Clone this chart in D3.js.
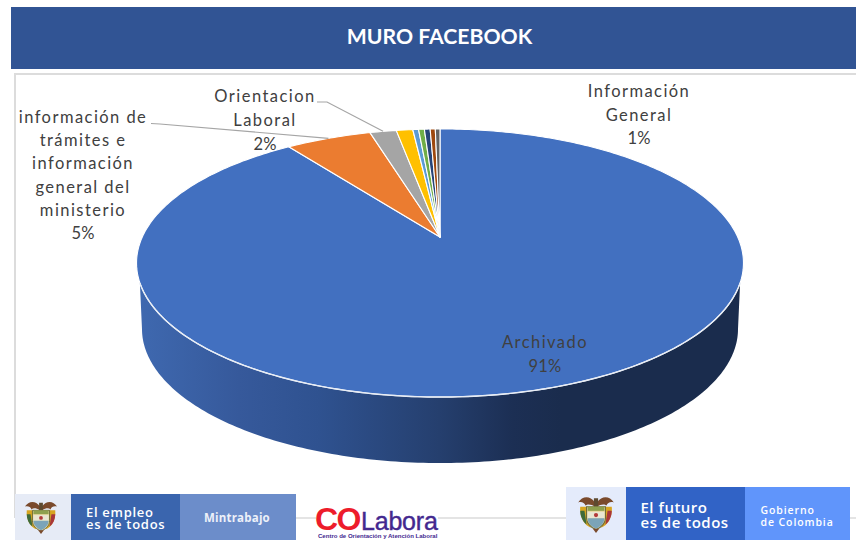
<!DOCTYPE html>
<html><head><meta charset="utf-8">
<style>html,body{margin:0;padding:0;background:#fff}svg{display:block}</style>
<script src="https://cdn.jsdelivr.net/npm/d3@7/dist/d3.min.js"></script></head>
<body><svg id="c" width="856" height="540"></svg>
<script>
// ---- data ----
const categories = ["Archivado","información de trámites e información general del ministerio","Orientacion Laboral","Información General","Otro 1","Otro 2","Otro 3","Otro 4","Otro 5"];
const values = [90.0,5.5,1.7,1.06,0.37,0.37,0.37,0.33,0.3];
const colors = ["#4270C0","#EB7C30","#A5A5A5","#FFC000","#5B9BD5","#70AD47","#264478","#9E480E","#636363"];
const percentLabels = ["91%","5%","2%","1%"];
const labelLines = [["Archivado"],["información de","trámites e","información","general del","ministerio"],["Orientacion","Laboral"],["Información","General"]];
const title = "MURO FACEBOOK";

// ---- layout ----
const svg=d3.select("#c");
const defs=svg.append("defs");
const apex={x:440,y:237},R=297.7,S=129,K=0.194,depth=66;
const project=a=>{const u=Math.sin(a),v=Math.cos(a),w=1+K*v;return [apex.x+R*u/w,apex.y-S*v/w];};
const line=d3.line();
const sweep=(a0,a1,n)=>d3.range(n+1).map(i=>project(a0+(a1-a0)*i/n));

// header and frame
svg.append("rect").attr("x",11).attr("y",7).attr("width",845).attr("height",62).attr("fill","#315494");
svg.append("text").text(title).attr("x",439.5).attr("y",44).attr("text-anchor","middle")
  .attr("font-family","Lato").attr("font-weight",700).attr("font-size",21.2).attr("fill","#fff");
svg.append("path").attr("d","M856 74H15V518").attr("fill","none").attr("stroke","#dcdcdc").attr("stroke-width",2);
svg.append("path").attr("d","M296 518H316M438 518H566M850 518H856").attr("fill","none").attr("stroke","#dcdcdc").attr("stroke-width",1.5);

// 3D side: front of the top rim, then the same rim shifted down by the depth
const g3=defs.append("linearGradient").attr("id","side").attr("gradientUnits","userSpaceOnUse")
  .attr("x1",136).attr("x2",743).attr("y1",0).attr("y2",0);
[[0,"#3f69b0"],[0.17,"#36599b"],[0.3,"#2f5290"],[0.5,"#253f6e"],[0.62,"#1c2f54"],[0.7,"#1a2c4d"],[1,"#1a2c4d"]]
  .forEach(([o,c])=>g3.append("stop").attr("offset",o).attr("stop-color",c));
const rimStart=1.91, rimEnd=2*Math.PI-1.91, widest=1.766;
const topEdge=sweep(rimStart,rimEnd,160);
const bottomEdge=sweep(widest,2*Math.PI-widest,180).map(([x,y])=>[apex.x+(x-apex.x)*0.982,y+depth]);
svg.append("path").attr("d",line(topEdge.concat(bottomEdge.slice().reverse()))+"Z").attr("fill","url(#side)");

// slices
const pie=d3.pie().sort(null).startAngle(0).endAngle(2*Math.PI)(values);
svg.append("g").selectAll("path").data(pie).join("path")
  .attr("d",d=>{const n=Math.max(4,Math.ceil((d.endAngle-d.startAngle)*60));
     return line([[apex.x,apex.y]].concat(sweep(d.startAngle,d.endAngle,n)))+"Z";})
  .attr("fill",(d,i)=>colors[i]).attr("stroke","#fff").attr("stroke-width",1.1).attr("stroke-linejoin","round");
svg.append("path").attr("d",line(topEdge)).attr("fill","none").attr("stroke","#e8edf5").attr("stroke-width",1.4);

// leader lines, ending at the projected middle of their slices
const mid=i=>(pie[i].startAngle+pie[i].endAngle)/2;
const leaders=[{i:1,from:[[151,123.5],[160,124]]},{i:2,from:[[317,102],[327,102]]}];
svg.append("g").selectAll("path").data(leaders).join("path")
  .attr("d",d=>line(d.from.concat([project(mid(d.i))])))
  .attr("fill","none").attr("stroke","#a5a5a5").attr("stroke-width",1.2);

// labels
const labelPos=[{x:545,y:348,dy:24},{x:83,y:123,dy:23.2},{x:265,y:102,dy:24},{x:639,y:97,dy:23.7}];
labelLines.forEach((lines,i)=>{
  const p=labelPos[i];
  const t=svg.append("text").attr("text-anchor","middle").attr("font-family","Lato").attr("font-size",16.5).attr("fill","#404040");
  lines.concat([percentLabels[i]]).forEach((s,j)=>{
    t.append("tspan").text(s).attr("x",p.x).attr("y",p.y+j*p.dy)
     .attr("letter-spacing",j<lines.length?1.45:0.2);
  });
});

// footer logos
function arms(cx,cy,k){
  const g=svg.append("g").attr("transform",`translate(${cx},${cy}) scale(${k})`);
  g.append("path").attr("d","M-1 -11C-6 -18 -13 -17 -17 -11C-14 -12 -11 -11 -10 -8C-8 -10 -4 -9 -1 -7Z").attr("fill","#7a4a2c");
  g.append("path").attr("d","M1 -11C6 -18 13 -17 17 -11C14 -12 11 -11 10 -8C8 -10 4 -9 1 -7Z").attr("fill","#7a4a2c");
  g.append("path").attr("d","M-2 -15H2V-6H-2Z").attr("fill","#5d4a30");
  g.append("path").attr("d","M-15 -7C-16 3 -11 11 -5 13L-8 -7Z").attr("fill","#d7a520");
  g.append("path").attr("d","M15 -7C16 3 11 11 5 13L8 -7Z").attr("fill","#d7a520");
  g.append("path").attr("d","M-15 -3C-15 2 -13 7 -9 10L-11 -3Z").attr("fill","#3f6b3a");
  g.append("path").attr("d","M15 -3C15 2 13 7 9 10L11 -3Z").attr("fill","#a8363a");
  g.append("path").attr("d","M-9 -7H9V4C9 10 4 13 0 15C-4 13 -9 10 -9 4Z").attr("fill","#e7d8a0").attr("stroke","#6d6a3a").attr("stroke-width",1);
  g.append("rect").attr("x",-8).attr("y",-2).attr("width",16).attr("height",6).attr("fill","#e9e6d2");
  g.append("path").attr("d","M-8 4H8C8 9 4 12 0 14C-4 12 -8 9 -8 4Z").attr("fill","#7ba4b8");
  g.append("rect").attr("x",-8).attr("y",-7).attr("width",16).attr("height",4).attr("fill","#8ea04e");
  g.append("circle").attr("cx",0).attr("cy",1).attr("r",2).attr("fill","#b23a3a");
  g.append("path").attr("d","M-3 14L0 18L3 14Z").attr("fill","#7a4a2c");
}
const block=(x,y,w,h,f)=>svg.append("rect").attr("x",x).attr("y",y).attr("width",w).attr("height",h).attr("fill",f);
// one text element per logo wordmark, its lines as tspans
function words(items){
  const t=svg.append("text");
  items.forEach(o=>t.append("tspan").text(o.s).attr("x",o.x).attr("y",o.y).attr("font-family",o.font||"Open Sans")
    .attr("font-size",o.size).attr("font-weight",o.weight||600).attr("fill",o.fill||"#fff").attr("letter-spacing",o.ls||0)
    .attr("stroke",o.stroke||null).attr("stroke-width",o.stroke?0.4:null));
}

block(15,494,56,46,"#e6ebf6");block(71,494,109,46,"#3a65ae");block(180,494,116,46,"#6c8dca");
arms(41,517,0.95);
words([{s:"El empleo",x:86,y:517,size:13,ls:.7},{s:"es de todos",x:86,y:529,size:13,ls:.7}]);
words([{s:"Mintrabajo",x:204,y:522,size:11.5,weight:700,fill:"#edf1f9",ls:.2}]);

words([{s:"CO",x:315,y:530,size:32,font:"Liberation Sans",weight:700,fill:"#ed1c2b",ls:-1.5},
       {s:"Labora",x:361,y:530,size:25,font:"Liberation Sans",weight:400,fill:"#43288f",ls:-.2,stroke:"#43288f"},
       {s:"Centro de Orientación y Atención Laboral",x:318,y:538,size:6.05,font:"Liberation Sans",weight:700,fill:"#43288f"}]);

block(566,487,60,53,"#e4ebfb");block(626,487,119,53,"#3163c6");block(745,487,105,53,"#6095fb");
arms(596,514,1.05);
words([{s:"El futuro",x:640.5,y:513,size:15,ls:.5},{s:"es de todos",x:640.5,y:528,size:15,ls:.5}]);
words([{s:"Gobierno",x:760.5,y:514,size:10.5,ls:.9},{s:"de Colombia",x:760.5,y:526,size:10.5,ls:.9}]);
</script></body></html>
